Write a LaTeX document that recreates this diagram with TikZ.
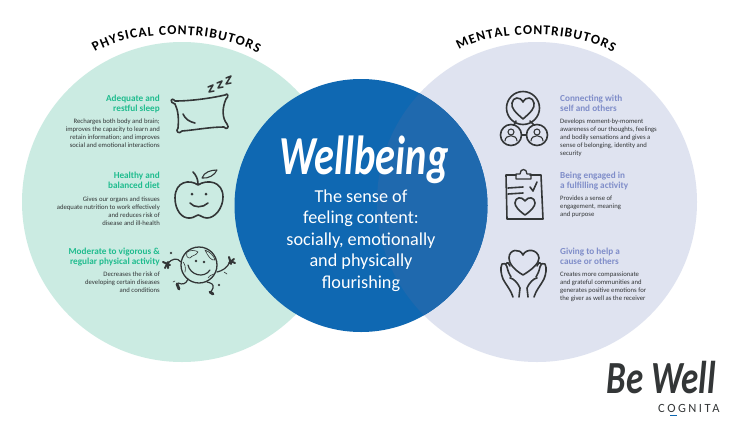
\documentclass[tikz,border=0pt]{standalone}
\usepackage{fontspec}
\setmainfont{Carlito}
\newfontfamily\brushfont[FakeStretch=0.735]{Carlito}
\newfontfamily\logofont[FakeStretch=0.76]{Carlito}
\newfontfamily\cogfont[LetterSpace=20]{Carlito}
\usetikzlibrary{decorations.text}
\definecolor{mint}{HTML}{CBEBE2}
\definecolor{lav}{HTML}{DFE3F0}
\definecolor{corebl}{HTML}{0F68B2}
\definecolor{lensbl}{HTML}{1F69AE}
\definecolor{hdgreen}{HTML}{1FBC8E}
\definecolor{hdlav}{HTML}{7F8DC9}
\definecolor{ink}{HTML}{333637}
\tikzset{
 x=1pt,y=-1pt,
 hdg/.style={inner sep=0pt,font=\fontsize{9.2}{10}\selectfont\bfseries},
 hdgl/.style={hdg,anchor=north east,align=right,text=hdgreen},
 hdgr/.style={hdg,anchor=north west,align=left,text=hdlav},
 bodyl/.style={inner sep=0pt,anchor=north east,align=right,text=ink,font=\fontsize{6.7}{8}\selectfont},
 bodyr/.style={inner sep=0pt,anchor=north west,align=left,text=ink,font=\fontsize{6.7}{8}\selectfont},
 icon/.style={draw=ink,line width=1.6pt,line cap=round,line join=round},
 thinicon/.style={draw=ink,line width=.6pt,line cap=round,line join=round},
 arctext/.style={decorate,decoration={text along path,text align={fit to path},
   text={|\fontsize{13.5}{14}\selectfont\bfseries\color{black}|#1}}},
}
\begin{document}
\begin{tikzpicture}
\useasboundingbox (0,0) rectangle (734,429);
\fill[white] (0,0) rectangle (734,429);
\fill[mint] (182,202) circle (160pt);
\fill[lav] (537,202) circle (160pt);
\fill[corebl] (361,205.5) circle (126.5pt);
\begin{scope}
\clip (361,205.5) circle (126.5pt);
\fill[lensbl] (537,202) circle (160pt);
\end{scope}

% arc titles
\path[arctext={PHYSICAL CONTRIBUTORS}] (95,52) .. controls (135,28) and (215,30) .. (258,53);
\path[arctext={MENTAL CONTRIBUTORS}] (459,50) .. controls (495,28) and (575,30) .. (613,52);

% centre
\node[inner sep=0pt,text=white] (wb) at (364,160) {\fontsize{55}{55}\brushfont\bfseries\itshape Wellbeing};
\node[inner sep=0pt,text=white,align=center,anchor=north,font=\fontsize{18.2}{21.5}\selectfont] (wbtext) at (361,189.5)
 {The sense of\\feeling content:\\socially, emotionally\\and physically\\flourishing};

% left texts
\node[hdgl] (h1) at (160,95) {Adequate and\\restful sleep};
\node[bodyl] (b1) at (160,119) {Recharges both body and brain;\\improves the capacity to learn and\\retain information; and improves\\social and emotional interactions};
\node[hdgl] (h2) at (160,172) {Healthy and\\balanced diet};
\node[bodyl] (b2) at (160,197) {Gives our organs and tissues\\adequate nutrition to work effectively\\and reduces risk of\\disease and ill-health};
\node[hdgl] (h3) at (160,248) {Moderate to vigorous \&\\regular physical activity};
\node[bodyl] (b3) at (160,272) {Decreases the risk of\\developing certain diseases\\and conditions};

% right texts
\node[hdgr] (h4) at (560,95) {Connecting with\\self and others};
\node[bodyr] (b4) at (560,119) {Develops moment-by-moment\\awareness of our thoughts, feelings\\and bodily sensations and gives a\\sense of belonging, identity and\\security};
\node[hdgr] (h5) at (560,172) {Being engaged in\\a fulfilling activity};
\node[bodyr] (b5) at (560,196) {Provides a sense of\\engagement, meaning\\and purpose};
\node[hdgr] (h6) at (560,248) {Giving to help a\\cause or others};
\node[bodyr] (b6) at (560,272) {Creates more compassionate\\and grateful communities and\\generates positive emotions for\\the giver as well as the receiver};

% pillow
\draw[icon] (175,101) .. controls (192,101) and (212,98) .. (225,95)
 .. controls (228,92) and (229,97) .. (226,99)
 .. controls (222,108) and (222,118) .. (227,124)
 .. controls (230,128) and (226,130) .. (224,127)
 .. controls (210,127) and (195,130) .. (182,131)
 .. controls (179,135) and (175,131) .. (178,128)
 .. controls (179,118) and (178,110) .. (175,104)
 .. controls (169,103) and (171,96) .. (175,101) -- cycle;
\draw[icon] (183,114) .. controls (185,119) and (190,122) .. (195,123);
\draw[icon,line width=1.5pt] (208,87)--(213,85)--(209,92)--(214,91);
\draw[icon,line width=1.5pt] (217,83)--(222,81)--(218,88)--(223,87);
\draw[icon,line width=1.5pt] (226,78)--(231,76)--(226,84)--(231,83);

% apple
\draw[icon] (198,185) .. controls (190,179) and (175,181) .. (175,198)
 .. controls (175,210) and (182,219) .. (190,218)
 .. controls (194,218) and (196,215) .. (198,215)
 .. controls (200,215) and (203,218) .. (207,218)
 .. controls (215,218) and (223,208) .. (223,197)
 .. controls (223,181) and (207,179) .. (198,185) -- cycle;
\draw[icon] (193,172) .. controls (196,175) and (198,179) .. (198,184);
\draw[icon,line width=1.1pt] (202,178) .. controls (204,172) and (211,170) .. (217,170)
 .. controls (215,175) and (208,179) .. (202,178) -- cycle;
\fill[ink] (192,194) circle (1.5pt) (206,194) circle (1.5pt);
\draw[icon] (190,203) .. controls (194,208) and (203,208) .. (208,203);

% globe character
\draw[icon,line width=1.3pt] (199,265) circle (18pt);
\fill[ink] (196,261) circle (1.4pt) (204,262) circle (1.4pt);
\draw[icon,line width=1.2pt] (188,265) .. controls (190,275) and (204,279) .. (210,270);
\draw[thinicon] (187,252) .. controls (190,250) and (196,250) .. (198,252) .. controls (196,256) and (192,255) .. (190,258) .. controls (187,258) and (186,256) .. (187,252);
\draw[thinicon] (205,250) .. controls (210,252) and (214,256) .. (215,260) .. controls (211,261) and (208,256) .. (205,250);
\draw[thinicon] (183,262) .. controls (185,264) and (186,268) .. (185,272);
\draw[thinicon] (208,278) .. controls (210,275) and (212,275) .. (214,274);
\draw[icon,line width=1.2pt] (181,262) .. controls (177,257) and (172,259) .. (168,263);
\draw[icon,line width=2pt] (163,262)--(170,265) (165,268)--(168,262) (168,268)--(168,262);
\draw[icon,line width=1.2pt] (217,272) .. controls (222,271) and (227,268) .. (230,262);
\draw[icon,line width=2pt] (229,263)--(234,259) (229,257)--(231,264) (235,263)--(230,261);
\draw[icon,line width=1.2pt] (188,279) .. controls (186,284) and (183,285) .. (178,283);
\draw[icon,line width=2.8pt] (177,284)--(179,289);
\draw[icon,line width=1.2pt] (207,282) .. controls (211,283) and (214,284) .. (213,288) -- (211,292);
\draw[icon,line width=2.8pt] (210,292)--(213,294);
\draw[thinicon] (170,252)--(172,254) (172,252)--(170,254) (175,281)--(173,282) (219,285) circle (1pt) (224,272)--(227,274);

% connecting icon
\draw[icon] (523,108) circle (16.5pt);
\draw[icon] (523,119) .. controls (515,112) and (511,108) .. (512,103)
 .. controls (513,97) and (520,96) .. (523,102)
 .. controls (526,96) and (533,97) .. (534,103)
 .. controls (535,108) and (531,112) .. (523,119) -- cycle;
\draw[icon] (511,135) circle (10.5pt) (537,135) circle (10.5pt);
\draw[icon] (516,121)--(514,125) (530,121)--(534,125) (521.5,135)--(526.5,135);
\draw[icon,line width=1.1pt] (511,132) circle (3pt) (537,132) circle (3pt);
\draw[icon,line width=1.1pt] (505,141) .. controls (505,134) and (517,134) .. (517,141);
\draw[icon,line width=1.1pt] (531,141) .. controls (531,134) and (543,134) .. (543,141);

% clipboard icon
\draw[icon] (516,175)--(506,175)--(507,219)--(543,219)--(541,175)--(530,175);
\draw[icon,line width=1.3pt] (516,179)--(516,174)--(520,174) .. controls (520,168) and (527,168) .. (527,174)--(531,174)--(531,179)--cycle;
\draw[icon] (508,188)--(523,187) (508,194)--(523,193);
\draw[icon] (530,187)--(533,191)--(537,182);
\draw[icon] (525,215) .. controls (518,210) and (515,206) .. (515,203)
 .. controls (515,197) and (522,196) .. (525,201)
 .. controls (528,196) and (535,197) .. (535,203)
 .. controls (535,206) and (532,210) .. (525,215) -- cycle;

% giving icon
\draw[icon] (523,275) .. controls (513,269) and (509,263) .. (509,258)
 .. controls (509,249) and (520,248) .. (523,255)
 .. controls (526,248) and (538,249) .. (539,258)
 .. controls (539,263) and (533,269) .. (523,275) -- cycle;
\draw[icon] (513,297) .. controls (511,290) and (506,285) .. (503,279)
 .. controls (501,274) and (500,268) .. (502,264)
 .. controls (504,262) and (506,264) .. (507,267)
 .. controls (508,271) and (509,274) .. (511,277);
\draw[icon] (506,264) .. controls (508,261) and (509,264) .. (510,266);
\draw[icon] (510,278) .. controls (513,278) and (518,283) .. (520,288) -- (519,297);
\draw[icon] (534,297) .. controls (536,290) and (541,285) .. (544,279)
 .. controls (546,274) and (547,268) .. (545,264)
 .. controls (543,262) and (541,264) .. (540,267)
 .. controls (539,271) and (538,274) .. (536,277);
\draw[icon] (541,264) .. controls (539,261) and (538,264) .. (537,266);
\draw[icon] (537,278) .. controls (534,278) and (529,283) .. (527,288) -- (528,297);

% logo
\node[inner sep=0pt,text=ink,anchor=base east] (bewell) at (716,393) {\fontsize{46}{46}\logofont\bfseries\itshape Be Well};
\node[inner sep=0pt,text=ink,anchor=base west] (cog) at (658,412) {\fontsize{12.5}{12.5}\cogfont COGNITA};
\fill[corebl] (670,414.5) rectangle (677,416);
\end{tikzpicture}
\end{document}
